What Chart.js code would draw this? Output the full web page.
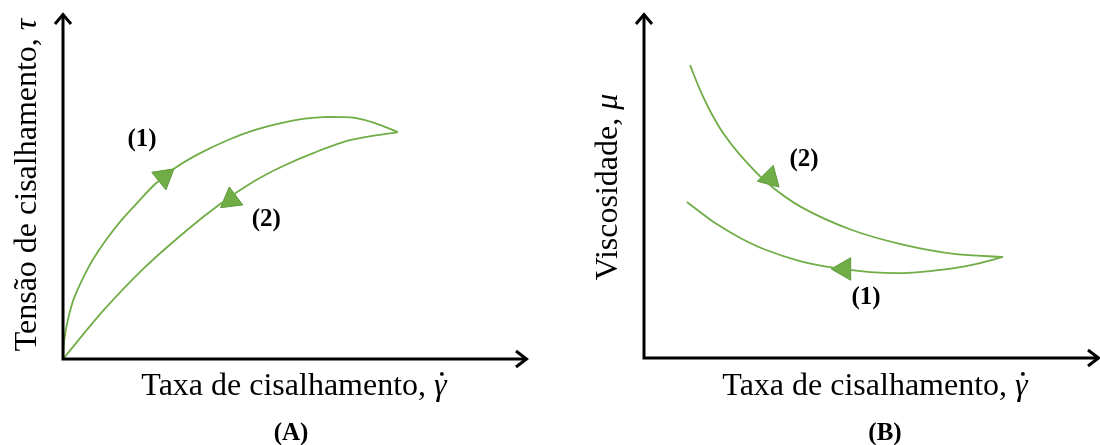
<!DOCTYPE html>
<html><head><meta charset="utf-8">
<script src="https://cdn.jsdelivr.net/npm/chart.js@4.4.1/dist/chart.umd.min.js"></script>
<style>
html,body{margin:0;padding:0;background:#fff;overflow:hidden}
#wrap{position:relative;width:1100px;height:445px;background:#fff}
canvas{position:absolute;top:0}
</style></head>
<body><div id="wrap">
<canvas id="cA" width="550" height="445" style="left:0"></canvas>
<canvas id="cB" width="550" height="445" style="left:550px"></canvas>
</div>
<script>
// ---------- Panel A : shear stress vs shear rate (hysteresis loop) ----------
const aUpX   = [0, 0.03, 0.11, 0.23, 0.42, 0.65, 0.94, 1.28, 1.67, 1.96, 2.41, 2.95, 3.55, 4.13, 4.69, 5.16, 5.59, 5.96, 6.28, 6.71, 7.20];
const aUpY   = [0, 0.58, 1.16, 1.73, 2.31, 2.89, 3.47, 4.05, 4.62, 5.03, 5.52, 5.95, 6.33, 6.62, 6.82, 6.94, 6.99, 6.99, 6.97, 6.82, 6.56];
const aDownX = [0, 0.86, 1.72, 2.67, 3.38, 4.09, 4.69, 5.38, 6.19, 7.20];
const aDownY = [0, 1.39, 2.60, 3.73, 4.48, 5.12, 5.55, 5.95, 6.33, 6.56];
const aArrowX = [2.17, 3.61];
const aArrowY = [5.26, 4.60];
const aArrowRot = [51, 233];
const aLabels = ['(1)', '(2)'];
const aLabelX = [1.70, 4.37];
const aLabelY = [6.33, 4.02];

// ---------- Panel B : viscosity vs shear rate ----------
const bUpX  = [1.01, 1.21, 1.45, 1.75, 2.11, 2.68, 3.44, 4.56, 5.70, 6.84, 7.87];
const bUpY  = [8.49, 7.83, 7.16, 6.49, 5.88, 5.10, 4.38, 3.71, 3.28, 3.01, 2.93];
const bLowX = [0.94, 1.23, 1.56, 2.11, 2.68, 3.42, 4.19, 4.96, 5.70, 6.27, 6.84, 7.37, 7.87];
const bLowY = [4.52, 4.23, 3.91, 3.48, 3.13, 2.81, 2.61, 2.49, 2.46, 2.52, 2.61, 2.75, 2.93];
const bArrowX = [2.76, 4.39];
const bArrowY = [5.22, 2.58];
const bArrowRot = [135, 270];
const bLabels = ['(2)', '(1)'];
const bLabelX = [3.51, 4.87];
const bLabelY = [5.74, 1.74];

const GREEN = '#70AD47';
const GREEN_DARK = '#5E9A3A';
const SERIF = '"Liberation Serif", "Times New Roman", serif';

function pts(xs, ys){ return xs.map((x,i)=>({x, y: ys[i]})); }

function drawRuns(ctx, runs, x, y, rot){
  ctx.save();
  ctx.translate(x, y);
  if (rot) ctx.rotate(rot);
  let total = 0;
  const widths = runs.map(r => { ctx.font = r.f; const w = ctx.measureText(r.t).width; total += w; return w; });
  let cx = -total/2;
  ctx.textBaseline = 'alphabetic';
  ctx.textAlign = 'left';
  ctx.fillStyle = '#000';
  runs.forEach((r,i) => {
    ctx.font = r.f;
    ctx.fillText(r.t, cx, 0);
    if (r.dot) {
      ctx.beginPath();
      ctx.arc(cx + widths[i]*0.62, -r.size*0.66, r.size*0.06, 0, Math.PI*2);
      ctx.fill();
    }
    cx += widths[i];
  });
  ctx.restore();
}

const decoPlugin = {
  id: 'deco',
  afterDraw(chart, args, o){
    const ctx = chart.ctx;
    const xs = chart.scales.x, ys = chart.scales.y;
    const L = xs.getPixelForValue(0), R = xs.getPixelForValue(xs.max);
    const B = ys.getPixelForValue(0), T = ys.getPixelForValue(ys.max);
    ctx.save();
    ctx.strokeStyle = '#000';
    ctx.lineWidth = 3;
    ctx.lineJoin = 'miter';
    ctx.lineCap = 'butt';
    ctx.beginPath();
    ctx.moveTo(L, B + 1.5); ctx.lineTo(L, T + 1);
    ctx.moveTo(L - 1.5, B); ctx.lineTo(R - 1, B);
    ctx.stroke();
    ctx.beginPath();
    ctx.moveTo(L - 8, T + 11); ctx.lineTo(L, T + 1.5); ctx.lineTo(L + 8, T + 11);
    ctx.moveTo(R - 12, B - 8); ctx.lineTo(R - 1.5, B); ctx.lineTo(R - 12, B + 8);
    ctx.stroke();
    // numbered labels
    ctx.fillStyle = '#000';
    ctx.font = 'bold 25px ' + SERIF;
    ctx.textAlign = 'center';
    ctx.textBaseline = 'middle';
    o.labels.forEach((t,i) => ctx.fillText(t, xs.getPixelForValue(o.lx[i]), ys.getPixelForValue(o.ly[i])));
    // axis titles
    drawRuns(ctx, o.yTitle, o.yTitlePos[0], o.yTitlePos[1], -Math.PI/2);
    drawRuns(ctx, o.xTitle, o.xTitlePos[0], o.xTitlePos[1], 0);
    drawRuns(ctx, [{t:o.panel, f:'bold 25px ' + SERIF}], o.panelPos[0], o.panelPos[1], 0);
    ctx.restore();
  }
};

function makeChart(id, curves, arrows, pad, deco){
  const datasets = curves.map(c => ({
    type: 'line', data: c, borderColor: GREEN, borderWidth: 1.8, pointRadius: 0,
    tension: 0.3, fill: false
  }));
  datasets.push({
    type: 'scatter', data: arrows.data, pointStyle: 'triangle', pointRadius: 13,
    rotation: arrows.rot, backgroundColor: GREEN, borderColor: GREEN_DARK, borderWidth: 1
  });
  return new Chart(document.getElementById(id), {
    type: 'line',
    data: { datasets },
    options: {
      responsive: false, animation: false, devicePixelRatio: 1,
      layout: { padding: pad, autoPadding: false },
      plugins: { legend: {display:false}, tooltip: {enabled:false}, title:{display:false}, deco },
      scales: {
        x: { type: 'linear', min: 0, max: 10, ticks: {display:false}, grid: {display:false, drawTicks:false}, border:{display:false} },
        y: { type: 'linear', min: 0, max: 10, ticks: {display:false}, grid: {display:false, drawTicks:false}, border:{display:false} }
      }
    },
    plugins: [decoPlugin]
  });
}

const F = '32px ' + SERIF, FI = 'italic 32px ' + SERIF;

makeChart('cA',
  [pts(aUpX, aUpY), pts(aDownX, aDownY)],
  { data: pts(aArrowX, aArrowY), rot: aArrowRot },
  { left: 63, top: 13, right: 22, bottom: 86 },
  {
    labels: aLabels, lx: aLabelX, ly: aLabelY,
    yTitle: [{t:'Tensão de cisalhamento, ', f:F}, {t:'τ', f:FI}],
    yTitlePos: [36, 185],
    xTitle: [{t:'Taxa de cisalhamento, ', f:F}, {t:'γ', f:FI, dot:true, size:32}],
    xTitlePos: [294, 395],
    panel: '(A)', panelPos: [291, 440]
  });

makeChart('cB',
  [pts(bUpX, bUpY), pts(bLowX, bLowY)],
  { data: pts(bArrowX, bArrowY), rot: bArrowRot },
  { left: 94, top: 13, right: 0, bottom: 87 },
  {
    labels: bLabels, lx: bLabelX, ly: bLabelY,
    yTitle: [{t:'Viscosidade, ', f:F}, {t:'μ', f:FI}],
    yTitlePos: [617 - 550, 187],
    xTitle: [{t:'Taxa de cisalhamento, ', f:F}, {t:'γ', f:FI, dot:true, size:32}],
    xTitlePos: [875 - 550, 395],
    panel: '(B)', panelPos: [885 - 550, 440]
  });
</script>
</body></html>
